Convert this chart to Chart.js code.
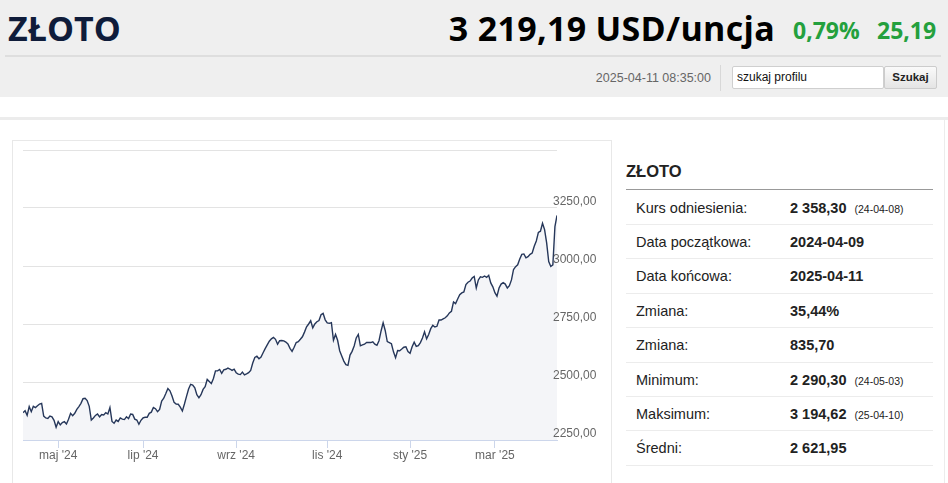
<!DOCTYPE html>
<html lang="pl">
<head>
    <meta charset="UTF-8">
    <title>ZŁOTO - notowania</title>
    <script src="https://cdn.jsdelivr.net/npm/chart.js"></script>
    <style>
        body { margin: 0; width: 948px; height: 483px; overflow: hidden; background: #fff; font-family: "Liberation Sans", Arial, sans-serif; position: relative; }
        .abs { position: absolute; }
        #top { left: 0; top: 0; width: 948px; height: 97px; background: #efefef; }
        .big { font-family: "Open Sans", sans-serif; font-weight: 700; font-size: 34px; line-height: 34px; white-space: nowrap; }
        .green { font-family: "Open Sans", sans-serif; font-weight: 700; font-size: 23px; line-height: 23px; color: #24a03d; white-space: nowrap; }
        #stamp { font-family: "Liberation Sans Narrow", "Arial Narrow", sans-serif; font-stretch: condensed; font-size: 12.5px; color: #666; }
        #search { left: 732px; top: 66px; width: 146px; height: 21px; background: #fff; border: 1px solid #cfcfcf; border-radius: 2px; font-size: 12px; line-height: 21px; padding-left: 4px; box-sizing: content-box; color: #111; }
        #btn { left: 884px; top: 66px; width: 51px; height: 21px; border: 1px solid #ccc; border-radius: 2px; background: linear-gradient(#fafafa, #e4e4e4); font-size: 11.5px; font-weight: bold; line-height: 21px; text-align: center; color: #222; }
        #chartBox { left: 12px; top: 140px; width: 598px; height: 360px; border: 1px solid #e8e8e8; }
        #chartWrap { left: 13px; top: 142px; width: 597px; height: 322px; }
        .row { position: absolute; left: 626px; width: 307px; height: 33.4px; border-bottom: 1px solid #ececec; font-size: 14.5px; color: #222; }
        .row .l { position: absolute; left: 10px; top: 0; line-height: 34px; }
        .row .v { position: absolute; left: 164px; top: 0; line-height: 34px; font-weight: bold; }
        .row .v small { font-weight: normal; font-size: 10.5px; margin-left: 8px; }
    </style>
</head>
<body>
    <div id="top" class="abs"></div>
    <div class="abs big" style="left:8px; top:11px; color:#0f1c3a;">ZŁOTO</div>
    <div class="abs big" style="right:173px; top:11px; color:#000; letter-spacing:0.3px;">3 219,19 USD/uncja</div>
    <div class="abs green" style="left:793px; top:19px;">0,79%</div>
    <div class="abs green" style="left:877px; top:19px;">25,19</div>
    <div class="abs" style="left:5px; top:55px; width:936px; height:2px; background:#dedede;"></div>
    <div id="stamp" class="abs" style="right:237px; top:71px;">2025-04-11 08:35:00</div>
    <div class="abs" style="left:720px; top:65px; width:1px; height:26px; background:#d8d8d8;"></div>
    <div id="search" class="abs">szukaj profilu</div>
    <div id="btn" class="abs">Szukaj</div>
    <div class="abs" style="left:0; top:117px; width:948px; height:3px; background:#ececec;"></div>
    <div class="abs" style="left:944px; top:120px; width:1px; height:363px; background:#ececec;"></div>

    <div id="chartBox" class="abs"></div>
    <div id="chartWrap" class="abs"><canvas id="goldChart"></canvas></div>

    <div id="side">
        <div class="abs" style="left:626px; top:162px; font-size:16.5px; font-weight:bold; color:#222;">ZŁOTO</div>
        <div class="abs" style="left:626px; top:189px; width:307px; height:1px; background:#999;"></div>
        <div id="rows"></div>
    </div>

    <script>
        // kurs dzienny (USD/uncja), 2024-04-09 .. 2025-04-11, dni notowań
        const values = [
            2368, 2376, 2356, 2394, 2372, 2395, 2390, 2398, 2405, 2408,
            2353, 2345, 2343, 2353, 2350, 2335, 2305, 2329, 2315, 2325,
            2329, 2319, 2339, 2365, 2355, 2365, 2382, 2394, 2408, 2428,
            2430, 2420, 2395, 2336, 2345, 2356, 2362, 2350, 2360, 2358,
            2368, 2362, 2390, 2330, 2322, 2336, 2330, 2345, 2340, 2338,
            2350, 2342, 2362, 2360, 2340, 2336, 2318, 2335, 2345, 2348,
            2348, 2365, 2370, 2390, 2385, 2372, 2382, 2418, 2430, 2450,
            2472, 2462, 2440, 2412, 2405, 2404, 2392, 2375, 2405, 2438,
            2470, 2490, 2487, 2475, 2445, 2432, 2445, 2468, 2480, 2511,
            2502, 2493, 2515, 2548, 2548, 2554, 2537, 2552, 2555, 2560,
            2556, 2550, 2555, 2540, 2534, 2532, 2543, 2531, 2535, 2540,
            2550, 2582, 2606, 2611, 2600, 2608, 2626, 2644, 2660, 2676,
            2686, 2692, 2684, 2663, 2678, 2679, 2677, 2672, 2664, 2645,
            2632, 2650, 2670, 2674, 2684, 2695, 2715, 2738, 2750, 2764,
            2733, 2750, 2760, 2765, 2790, 2796, 2768, 2755, 2753, 2756,
            2680, 2705, 2680, 2635, 2612, 2590, 2575, 2572, 2616, 2632,
            2655, 2690, 2705, 2656, 2660, 2663, 2670, 2670, 2670, 2673,
            2663, 2658, 2678, 2720, 2755, 2722, 2674, 2670, 2665, 2630,
            2605, 2636, 2635, 2642, 2650, 2652, 2631, 2624, 2652, 2672,
            2654, 2657, 2670, 2690, 2716, 2686, 2705, 2730, 2744, 2737,
            2740, 2767, 2767, 2772, 2777, 2785, 2798, 2805, 2845, 2838,
            2858, 2876, 2884, 2888, 2920, 2930, 2935, 2948, 2955, 2905,
            2940, 2953, 2951, 2957, 2951, 2960, 2927, 2910, 2885, 2870,
            2905, 2922, 2928, 2922, 2905, 2915, 2940, 2985, 2997, 3005,
            3030, 3050, 3052, 3035, 3040, 3050, 3056, 3085, 3108, 3145,
            3150, 3184, 3157, 3100, 3019, 2998, 3005, 3170, 3218
        ];

        // etykiety osi X (początek miesiąca) i ich pozycje w serii
        const monthLabels = ["maj '24", "lip '24", "wrz '24", "lis '24", "sty '25", "mar '25"];
        const monthIdx = [17, 58, 103, 147, 187, 228];

        // oś Y
        const yMin = 2250;
        const yMax = 3500;
        const yStep = 250;

        // tabela po prawej
        const statLabels = ["Kurs odniesienia:", "Data początkowa:", "Data końcowa:", "Zmiana:", "Zmiana:", "Minimum:", "Maksimum:", "Średni:"];
        const statValues = ["2 358,30", "2024-04-09", "2025-04-11", "35,44%", "835,70", "2 290,30", "3 194,62", "2 621,95"];
        const statDates = ["(24-04-08)", "", "", "", "", "(24-05-03)", "(25-04-10)", ""];

        const rows = document.getElementById("rows");
        statLabels.forEach((label, i) => {
            const row = document.createElement("div");
            row.className = "row";
            row.style.top = (190.6 + i * 34.4) + "px";
            row.innerHTML = `<span class="l">${label}</span><span class="v">${statValues[i]}${statDates[i] ? `<small>${statDates[i]}</small>` : ""}</span>`;
            rows.appendChild(row);
        });

        const axisFont = { family: "'Liberation Sans', Arial, sans-serif", size: 12 };

        // y labels sit above their grid line and start a bit inside the plot,
        // which the built-in tick drawing clips, so draw them here from the scale
        const yLabelsPlugin = {
            id: 'yLabels',
            afterDraw(chart) {
                const scale = chart.scales.y;
                const c = chart.ctx;
                c.save();
                c.font = `${axisFont.size}px ${axisFont.family}`;
                c.fillStyle = "#666";
                c.textAlign = "left";
                c.textBaseline = "middle";
                scale.ticks.forEach(t => {
                    if (t.value === yMax) return;
                    const y = scale.getPixelForValue(t.value) - 6;
                    c.fillText(t.value.toFixed(2).replace('.', ','), chart.chartArea.right - 4, y);
                });
                c.restore();
            }
        };

        const ctx = document.getElementById("goldChart").getContext("2d");
        const goldChart = new Chart(ctx, {
            type: 'line',
            data: {
                datasets: [{
                    data: values.map((v, i) => ({ x: i, y: v })),
                    borderColor: "#26375a",
                    borderWidth: 1.4,
                    backgroundColor: "#f4f5f8",
                    fill: 'start',
                    pointRadius: 0,
                    tension: 0
                }]
            },
            options: {
                responsive: true,
                maintainAspectRatio: false,
                animation: false,
                layout: { padding: { left: 10, top: 8, right: 0, bottom: 0 } },
                plugins: { legend: { display: false }, tooltip: { enabled: false } },
                scales: {
                    x: {
                        type: 'linear',
                        min: 0,
                        max: values.length - 1,
                        afterBuildTicks: s => { s.ticks = monthIdx.map(v => ({ value: v })); },
                        afterFit: s => { s.height = 24; },
                        ticks: {
                            autoSkip: false,
                            maxRotation: 0,
                            padding: 0,
                            color: "#666",
                            font: axisFont,
                            callback: v => monthLabels[monthIdx.indexOf(v)]
                        },
                        grid: { drawOnChartArea: false, drawTicks: true, tickLength: 8, color: "#ccd6eb" },
                        border: { color: "#ccd6eb" }
                    },
                    y: {
                        position: 'right',
                        min: yMin,
                        max: yMax,
                        afterFit: s => { s.width = 53; },
                        ticks: { stepSize: yStep, display: false },
                        grid: { color: "#e3e3e3", drawTicks: false },
                        border: { display: false }
                    }
                }
            },
            plugins: [yLabelsPlugin]
        });
    </script>
</body>
</html>
